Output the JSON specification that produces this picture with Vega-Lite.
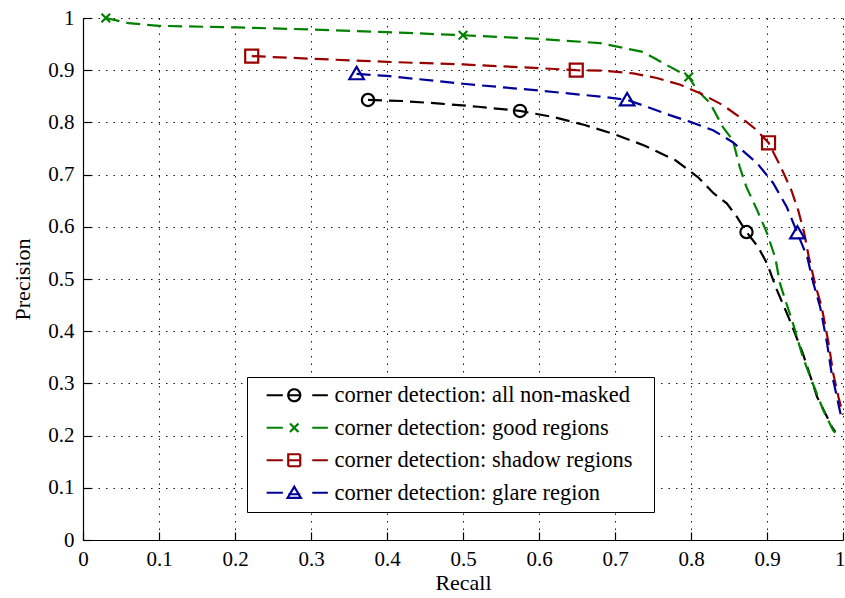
{
  "$schema": "https://vega.github.io/schema/vega-lite/v6.json",
  "width": 760,
  "height": 522,
  "autosize": {"type": "none"},
  "padding": {"left": 83, "top": 18, "right": 2, "bottom": 58},
  "background": "white",
  "config": {
    "font": "Liberation Serif",
    "view": {"stroke": null},
    "axis": {
      "labelFont": "Liberation Serif",
      "labelFontSize": 21,
      "labelColor": "black",
      "titleFont": "Liberation Serif",
      "titleFontSize": 22,
      "titleFontWeight": "normal",
      "titleColor": "black",
      "domainColor": "black",
      "domainWidth": 1.2,
      "tickColor": "black",
      "tickWidth": 1.2,
      "tickSize": -8,
      "gridColor": "black",
      "gridDash": [1.5, 6],
      "gridWidth": 1,
      "gridOpacity": 0.9
    }
  },
  "datasets": {
    "curves": [
      {"series": "all non-masked", "recall": 0.375, "precision": 0.843},
      {"series": "all non-masked", "recall": 0.42, "precision": 0.841},
      {"series": "all non-masked", "recall": 0.47, "precision": 0.836},
      {"series": "all non-masked", "recall": 0.52, "precision": 0.83},
      {"series": "all non-masked", "recall": 0.575, "precision": 0.822},
      {"series": "all non-masked", "recall": 0.62, "precision": 0.81},
      {"series": "all non-masked", "recall": 0.66, "precision": 0.795},
      {"series": "all non-masked", "recall": 0.70, "precision": 0.777},
      {"series": "all non-masked", "recall": 0.74, "precision": 0.755},
      {"series": "all non-masked", "recall": 0.78, "precision": 0.727},
      {"series": "all non-masked", "recall": 0.81, "precision": 0.694},
      {"series": "all non-masked", "recall": 0.83, "precision": 0.664},
      {"series": "all non-masked", "recall": 0.847, "precision": 0.645},
      {"series": "all non-masked", "recall": 0.86, "precision": 0.62},
      {"series": "all non-masked", "recall": 0.873, "precision": 0.59},
      {"series": "all non-masked", "recall": 0.888, "precision": 0.562},
      {"series": "all non-masked", "recall": 0.9, "precision": 0.53},
      {"series": "all non-masked", "recall": 0.913, "precision": 0.479},
      {"series": "all non-masked", "recall": 0.93, "precision": 0.421},
      {"series": "all non-masked", "recall": 0.947, "precision": 0.358},
      {"series": "all non-masked", "recall": 0.966, "precision": 0.274},
      {"series": "all non-masked", "recall": 0.986, "precision": 0.215},
      {"series": "all non-masked", "recall": 0.99, "precision": 0.207},

      {"series": "good regions", "recall": 0.03, "precision": 1.0},
      {"series": "good regions", "recall": 0.06, "precision": 0.99},
      {"series": "good regions", "recall": 0.1, "precision": 0.985},
      {"series": "good regions", "recall": 0.2, "precision": 0.982},
      {"series": "good regions", "recall": 0.3, "precision": 0.978},
      {"series": "good regions", "recall": 0.4, "precision": 0.973},
      {"series": "good regions", "recall": 0.5, "precision": 0.967},
      {"series": "good regions", "recall": 0.6, "precision": 0.96},
      {"series": "good regions", "recall": 0.68, "precision": 0.952},
      {"series": "good regions", "recall": 0.737, "precision": 0.935},
      {"series": "good regions", "recall": 0.768, "precision": 0.91},
      {"series": "good regions", "recall": 0.797, "precision": 0.887},
      {"series": "good regions", "recall": 0.808, "precision": 0.862},
      {"series": "good regions", "recall": 0.825, "precision": 0.837},
      {"series": "good regions", "recall": 0.842, "precision": 0.791},
      {"series": "good regions", "recall": 0.855, "precision": 0.766},
      {"series": "good regions", "recall": 0.864, "precision": 0.715},
      {"series": "good regions", "recall": 0.873, "precision": 0.676},
      {"series": "good regions", "recall": 0.887, "precision": 0.632},
      {"series": "good regions", "recall": 0.9, "precision": 0.588},
      {"series": "good regions", "recall": 0.911, "precision": 0.54},
      {"series": "good regions", "recall": 0.917, "precision": 0.492},
      {"series": "good regions", "recall": 0.924, "precision": 0.46},
      {"series": "good regions", "recall": 0.934, "precision": 0.416},
      {"series": "good regions", "recall": 0.947, "precision": 0.351},
      {"series": "good regions", "recall": 0.957, "precision": 0.312},
      {"series": "good regions", "recall": 0.974, "precision": 0.249},
      {"series": "good regions", "recall": 0.987, "precision": 0.21},
      {"series": "good regions", "recall": 0.99, "precision": 0.205},

      {"series": "shadow regions", "recall": 0.222, "precision": 0.927},
      {"series": "shadow regions", "recall": 0.3, "precision": 0.922},
      {"series": "shadow regions", "recall": 0.4, "precision": 0.916},
      {"series": "shadow regions", "recall": 0.5, "precision": 0.911},
      {"series": "shadow regions", "recall": 0.6, "precision": 0.904},
      {"series": "shadow regions", "recall": 0.649, "precision": 0.9},
      {"series": "shadow regions", "recall": 0.684, "precision": 0.899},
      {"series": "shadow regions", "recall": 0.724, "precision": 0.894},
      {"series": "shadow regions", "recall": 0.755, "precision": 0.885},
      {"series": "shadow regions", "recall": 0.786, "precision": 0.872},
      {"series": "shadow regions", "recall": 0.812, "precision": 0.856},
      {"series": "shadow regions", "recall": 0.842, "precision": 0.833},
      {"series": "shadow regions", "recall": 0.873, "precision": 0.801},
      {"series": "shadow regions", "recall": 0.885, "precision": 0.787},
      {"series": "shadow regions", "recall": 0.902, "precision": 0.761},
      {"series": "shadow regions", "recall": 0.918, "precision": 0.715},
      {"series": "shadow regions", "recall": 0.932, "precision": 0.67},
      {"series": "shadow regions", "recall": 0.941, "precision": 0.632},
      {"series": "shadow regions", "recall": 0.949, "precision": 0.588},
      {"series": "shadow regions", "recall": 0.955, "precision": 0.542},
      {"series": "shadow regions", "recall": 0.963, "precision": 0.492},
      {"series": "shadow regions", "recall": 0.972, "precision": 0.446},
      {"series": "shadow regions", "recall": 0.981, "precision": 0.377},
      {"series": "shadow regions", "recall": 0.987, "precision": 0.32},
      {"series": "shadow regions", "recall": 0.994, "precision": 0.274},
      {"series": "shadow regions", "recall": 1.0, "precision": 0.24},

      {"series": "glare region", "recall": 0.36, "precision": 0.893},
      {"series": "glare region", "recall": 0.4, "precision": 0.889},
      {"series": "glare region", "recall": 0.5, "precision": 0.874},
      {"series": "glare region", "recall": 0.6, "precision": 0.861},
      {"series": "glare region", "recall": 0.684, "precision": 0.849},
      {"series": "glare region", "recall": 0.716, "precision": 0.843},
      {"series": "glare region", "recall": 0.742, "precision": 0.83},
      {"series": "glare region", "recall": 0.772, "precision": 0.814},
      {"series": "glare region", "recall": 0.799, "precision": 0.801},
      {"series": "glare region", "recall": 0.829, "precision": 0.785},
      {"series": "glare region", "recall": 0.855, "precision": 0.762},
      {"series": "glare region", "recall": 0.887, "precision": 0.722},
      {"series": "glare region", "recall": 0.908, "precision": 0.684},
      {"series": "glare region", "recall": 0.926, "precision": 0.638},
      {"series": "glare region", "recall": 0.94, "precision": 0.588},
      {"series": "glare region", "recall": 0.953, "precision": 0.542},
      {"series": "glare region", "recall": 0.961, "precision": 0.492},
      {"series": "glare region", "recall": 0.97, "precision": 0.446},
      {"series": "glare region", "recall": 0.979, "precision": 0.377},
      {"series": "glare region", "recall": 0.985, "precision": 0.32},
      {"series": "glare region", "recall": 0.992, "precision": 0.274},
      {"series": "glare region", "recall": 0.997, "precision": 0.24}
    ],
    "markers": [
      {"series": "all non-masked", "recall": 0.375, "precision": 0.843},
      {"series": "all non-masked", "recall": 0.575, "precision": 0.822},
      {"series": "all non-masked", "recall": 0.873, "precision": 0.59},
      {"series": "good regions", "recall": 0.03, "precision": 1.0},
      {"series": "good regions", "recall": 0.5, "precision": 0.967},
      {"series": "good regions", "recall": 0.797, "precision": 0.887},
      {"series": "shadow regions", "recall": 0.222, "precision": 0.927},
      {"series": "shadow regions", "recall": 0.649, "precision": 0.9},
      {"series": "shadow regions", "recall": 0.902, "precision": 0.761},
      {"series": "glare region", "recall": 0.36, "precision": 0.893},
      {"series": "glare region", "recall": 0.716, "precision": 0.843},
      {"series": "glare region", "recall": 0.94, "precision": 0.588}
    ]
  },
  "encoding": {
    "x": {
      "field": "recall", "type": "quantitative", "title": "Recall",
      "scale": {"domain": [0, 1], "nice": false, "zero": false},
      "axis": {"values": [0, 0.1, 0.2, 0.3, 0.4, 0.5, 0.6, 0.7, 0.8, 0.9, 1], "format": "~g", "labelPadding": 16, "titlePadding": 3, "labelFlush": false,
        "labelAlign": {"expr": "datum.value == 1 ? 'right' : 'center'"},
        "labelOffset": {"expr": "datum.value == 1 ? 2 : 0"}}
    },
    "y": {
      "field": "precision", "type": "quantitative", "title": "Precision",
      "scale": {"domain": [0, 1], "nice": false, "zero": false},
      "axis": {"values": [0, 0.1, 0.2, 0.3, 0.4, 0.5, 0.6, 0.7, 0.8, 0.9, 1], "format": "~g", "labelPadding": 17, "titlePadding": 13, "labelFlush": false}
    }
  },
  "layer": [
    {
      "data": {"name": "curves"},
      "mark": {"type": "line", "strokeWidth": 2.2, "strokeDash": [14, 7], "interpolate": "linear"},
      "encoding": {
        "color": {
          "field": "series", "type": "nominal",
          "scale": {
            "domain": ["all non-masked", "good regions", "shadow regions", "glare region"],
            "range": ["#000000", "#008000", "#990000", "#000099"]
          },
          "legend": {
            "orient": "none",
            "legendX": 164,
            "legendY": 359,
            "title": "\u00a0",
            "titleOrient": "right",
            "titlePadding": 14,
            "titleFontSize": 4,
            "strokeColor": "black",
            "fillColor": "white",
            "padding": 7,
            "rowPadding": 9.5,
            "labelFont": "Liberation Serif",
            "labelFontSize": 22.5,
            "labelColor": "black",
            "labelLimit": 600,
            "symbolSize": 144,
            "symbolOffset": 29,
            "labelOffset": 29,
            "symbolStrokeWidth": 2.2,
            "labelExpr": "'corner detection: ' + datum.label",
            "encode": {
              "symbols": {
                "update": {
                  "shape": {"signal": "datum.value === 'all non-masked' ? 'M-4.6,0L-1.9,0M-1,0L1,0M3,0L5.6,0M-1,0A1,1 0 1,1 1,0A1,1 0 1,1 -1,0' : datum.value === 'good regions' ? 'M-4.6,0L-1.9,0M3,0L5.6,0M-0.7,-0.7L0.7,0.7M-0.7,0.7L0.7,-0.7' : datum.value === 'shadow regions' ? 'M-4.6,0L-1.9,0M-1,0L1,0M3,0L5.6,0M-1,-1L1,-1L1,1L-1,1Z' : 'M-4.6,0L-1.9,0M-1,0.25L1,0.25M3,0L5.6,0M0,-1L1.1,0.85L-1.1,0.85Z'"},
                  "strokeDash": {"value": [1, 0]},
                  "fill": {"value": "transparent"},
                  "opacity": {"value": 1}
                }
              }
            }
          }
        }
      }
    },
    {
      "data": {"name": "markers"},
      "transform": [{"filter": "datum.series === 'all non-masked'"}],
      "mark": {"type": "point", "filled": false, "strokeWidth": 2.2, "size": 150, "opacity": 1, "shape": "M-1,0A1,1 0 1,1 1,0A1,1 0 1,1 -1,0"},
      "encoding": {"color": {"field": "series", "type": "nominal", "legend": null}}
    },
    {
      "data": {"name": "markers"},
      "transform": [{"filter": "datum.series === 'good regions'"}],
      "mark": {"type": "point", "filled": false, "strokeWidth": 2.2, "size": 150, "opacity": 1, "shape": "M-0.7,-0.7L0.7,0.7M-0.7,0.7L0.7,-0.7"},
      "encoding": {"color": {"field": "series", "type": "nominal", "legend": null}}
    },
    {
      "data": {"name": "markers"},
      "transform": [{"filter": "datum.series === 'shadow regions'"}],
      "mark": {"type": "point", "filled": false, "strokeWidth": 2.2, "size": 170, "opacity": 1, "shape": "M-1,-1H1V1H-1Z"},
      "encoding": {"color": {"field": "series", "type": "nominal", "legend": null}}
    },
    {
      "data": {"name": "markers"},
      "transform": [{"filter": "datum.series === 'glare region'"}],
      "mark": {"type": "point", "filled": false, "strokeWidth": 2.2, "size": 160, "opacity": 1, "shape": "M0,-1.1L1.15,0.85H-1.15Z"},
      "encoding": {"color": {"field": "series", "type": "nominal", "legend": null}}
    }
  ]
}
